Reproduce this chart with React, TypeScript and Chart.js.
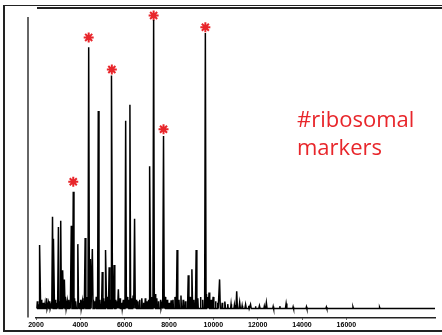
import React, { useEffect, useRef } from "react";
import { Chart, registerables } from "chart.js";

Chart.register(...registerables);

// x tick labels (m/z)
const tickValues = [2000, 4000, 6000, 8000, 10000, 12000, 14000, 16000];

// main peaks (m/z, relative intensity)
const peakMz = [2178, 2745, 2803, 3012, 3115, 3218, 3280, 3592, 3681, 3887, 4217, 4377, 4453, 4542, 4810, 4988, 5153, 5300, 5421, 5523, 5715, 6045, 6237, 6447, 6772, 7142, 7307, 7753, 8097, 8364, 8868, 9033, 9225, 9640, 9805, 9990, 10282, 10519, 11054, 11188, 11455, 11678, 12080, 12392, 13284];
const peakInt = [21.8, 31.5, 23.9, 28, 30.1, 13.1, 10, 28.4, 40.1, 22.1, 24.2, 89.6, 17, 20.4, 67.8, 12.5, 20.1, 14.2, 79.9, 14.9, 6.6, 64.4, 69.9, 30.8, 3.5, 48.8, 99, 59.2, 2.8, 20.1, 11.4, 13.5, 20.1, 94.5, 5.5, 4, 10, 2.4, 5.9, 2.1, 1.4, 1.4, 1, 2, 1.7];

// small baseline noise peaks
const noiseMz = [2060, 2120, 2250, 2330, 2410, 2480, 2560, 2620, 2690, 2880, 2950, 3060, 3160, 3340, 3410, 3480, 3530, 3740, 3800, 3950, 4020, 4090, 4160, 4280, 4330, 4420, 4600, 4660, 4720, 4880, 5050, 5100, 5220, 5370, 5470, 5600, 5660, 5790, 5870, 5940, 6110, 6170, 6310, 6380, 6520, 6600, 6680, 6850, 6930, 7010, 7080, 7210, 7380, 7450, 7530, 7620, 7690, 7830, 7920, 8010, 8180, 8270, 8450, 8540, 8640, 8740, 8950, 9120, 9300, 9420, 9520, 9700, 9760, 9900, 10100, 10200, 10400, 10650, 10800, 10950, 11300, 11600, 11900, 12300, 12700, 13000, 13600, 14200, 15100, 16300, 17500];
const noiseInt = [2.5, 1.5, 3, 2, 1.5, 3.5, 2, 2.5, 1.5, 3, 2, 2.5, 3, 4, 2.5, 3, 2, 3.5, 2.5, 2, 3, 2.5, 3.5, 4, 3, 5, 3, 2.5, 4, 3, 3.5, 2.5, 4, 3, 5, 3, 2.5, 3.5, 2, 3, 4, 3, 3.5, 4.5, 3, 2.5, 3, 2, 3.5, 2.5, 3, 4, 5, 3.5, 2.5, 3, 2, 4, 3, 2, 3, 4, 3, 4.5, 3, 2.5, 4, 3, 3.5, 4, 3, 5, 4, 3, 2.5, 2, 2, 1.5, 1.5, 1.2, 1, 1, 0.8, 0.8, 0.7, 0.8, 0.6, 0.6, 0.5, 0.5, 0.4];

// ribosomal marker stars
const starMz = [3681, 4377, 5421, 7307, 7753, 9640];
const starInt = [43.5, 93, 82, 100.5, 61.5, 96.5];

const RED = "#e8262b";

function buildTrace() {
  const peaks: { mz: number; h: number; w: number }[] = [];
  for (let i = 0; i < Math.min(peakMz.length, peakInt.length); i++) peaks.push({ mz: peakMz[i], h: peakInt[i], w: 32 });
  for (let i = 0; i < Math.min(noiseMz.length, noiseInt.length); i++) peaks.push({ mz: noiseMz[i], h: noiseInt[i], w: 20 });
  peaks.sort((a, b) => a.mz - b.mz);
  const pts: { x: number; y: number }[] = [{ x: 2040, y: 0 }];
  for (const p of peaks) {
    pts.push({ x: p.mz - p.w, y: 0 });
    pts.push({ x: p.mz, y: p.h });
    pts.push({ x: p.mz + p.w, y: 0 });
  }
  pts.push({ x: 20000, y: 0 });
  return pts;
}

const yLinePlugin = {
  id: "yLine",
  afterDraw(chart: any) {
    const { ctx, chartArea } = chart;
    ctx.save();
    ctx.strokeStyle = "#333";
    ctx.lineWidth = 1.5;
    ctx.beginPath();
    ctx.moveTo(chartArea.left - 8, chartArea.top);
    ctx.lineTo(chartArea.left - 8, chartArea.bottom);
    ctx.stroke();
    ctx.restore();
  },
};

export default function App() {
  const ref = useRef<HTMLCanvasElement>(null);
  useEffect(() => {
    document.body.style.margin = "0";
    const chart = new Chart(ref.current!, {
      type: "scatter",
      data: {
        datasets: [
          {
            data: buildTrace(),
            showLine: true,
            borderColor: "#000",
            borderWidth: 1.5,
            pointRadius: 0,
            tension: 0,
          } as any,
          {
            data: starMz.map((m, i) => ({ x: m, y: starInt[i] })),
            pointStyle: "star",
            pointRadius: 5,
            borderColor: RED,
            backgroundColor: RED,
            pointBorderWidth: 2,
            borderWidth: 2,
            clip: false,
          } as any,
        ],
      },
      options: {
        animation: false,
        responsive: true,
        maintainAspectRatio: false,
        layout: { padding: { left: 36, right: 2, top: 17, bottom: 5 } },
        plugins: { legend: { display: false }, tooltip: { enabled: false } },
        scales: {
          x: {
            type: "linear",
            min: 2000,
            max: 20000,
            afterBuildTicks: (scale: any) => {
              scale.ticks = tickValues.map((v) => ({ value: v }));
            },
            grid: { display: true, drawOnChartArea: false, tickLength: 2, color: "#000" },
            border: { display: true, color: "#222", width: 1.5 },
            ticks: {
              autoSkip: false,
              maxRotation: 0,
              padding: 1,
              color: "#000",
              font: { family: "Liberation Sans, Arial", size: 7, weight: "bold" },
              callback: (v: any) => String(v),
            },
          },
          y: {
            display: false,
            min: -3.1,
            max: 100,
          },
        },
      },
      plugins: [yLinePlugin],
    });
    return () => chart.destroy();
  }, []);

  const line = (s: React.CSSProperties) => (
    <div style={{ position: "absolute", background: "#222", ...s }} />
  );

  return (
    <div style={{ position: "relative", width: 442, height: 335, background: "#fff", overflow: "hidden" }}>
      <canvas ref={ref} />
      {line({ left: 3, top: 4.5, width: 1.5, height: 327 })}
      {line({ left: 3, top: 4.5, right: 0, height: 1.5 })}
      {line({ left: 37, top: 7, right: 0, height: 1.5 })}
      {line({ left: 3, top: 330, right: 0, height: 1.5 })}
      <div
        style={{
          position: "absolute",
          left: 297,
          top: 104,
          color: RED,
          fontFamily: "'Open Sans', sans-serif",
          fontSize: 22,
          lineHeight: "28px",
        }}
      >
        #ribosomal
        <br />
        markers
      </div>
    </div>
  );
}
